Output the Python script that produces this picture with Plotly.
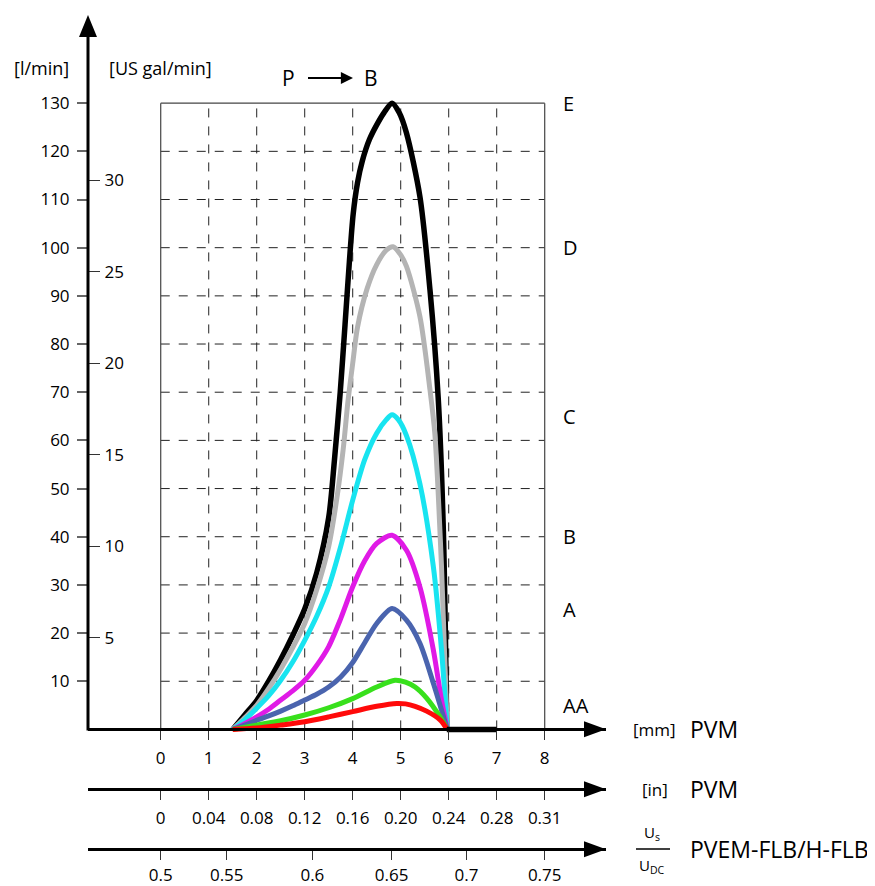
import plotly.graph_objects as go

# flow curves, stroke in mm vs flow in l/min
e_mm = [1.5, 1.75, 2.0, 2.25, 2.5, 2.75, 3.0, 3.25, 3.5, 3.62, 3.74, 3.84, 3.93, 4.01, 4.1, 4.2, 4.35, 4.5, 4.65, 4.82, 4.97, 5.12, 5.4, 5.61, 5.78, 5.89, 5.96]
e_flow = [0, 3.0, 6.0, 10.0, 14.5, 19.5, 25.0, 32.5, 44.0, 56.0, 70.0, 84.0, 97.0, 107.0, 113.5, 118.0, 122.5, 125.5, 128.0, 130.0, 128.0, 123.8, 110.6, 91.2, 69.0, 40.7, 0]
e_tail_mm = [5.96, 7.0]
e_tail_flow = [0, 0]
d_mm = [1.5, 1.75, 2.0, 2.25, 2.5, 2.75, 3.0, 3.25, 3.5, 3.67, 3.8, 3.9, 4.0, 4.1, 4.3, 4.5, 4.7, 4.84, 5.0, 5.12, 5.4, 5.61, 5.71, 5.85, 5.97]
d_flow = [0, 2.4, 5.0, 8.5, 12.5, 17.0, 22.0, 29.0, 38.0, 48.0, 58.0, 68.0, 76.0, 83.5, 91.5, 96.5, 99.5, 100.2, 98.5, 96.1, 85.7, 70.5, 61.5, 33.8, 0]
c_mm = [1.5, 1.75, 2.0, 2.25, 2.5, 2.75, 3.0, 3.25, 3.5, 3.75, 4.0, 4.25, 4.5, 4.7, 4.82, 4.95, 5.12, 5.4, 5.68, 5.85, 5.97]
c_flow = [0, 2.0, 4.4, 7.0, 10.2, 14.0, 18.5, 23.5, 29.6, 38.0, 47.6, 56.0, 61.5, 64.3, 65.3, 64.3, 61.0, 51.0, 33.8, 16.5, 0]
b_mm = [1.5, 1.75, 2.0, 2.25, 2.5, 2.75, 3.0, 3.25, 3.5, 3.75, 4.0, 4.25, 4.5, 4.82, 5.12, 5.4, 5.68, 5.85, 5.97]
b_flow = [0, 1.2, 2.6, 4.2, 6.1, 8.0, 10.2, 13.3, 17.2, 23.0, 29.6, 35.0, 38.6, 40.3, 37.2, 29.6, 16.5, 6.1, 0]
a_mm = [1.5, 1.75, 2.0, 2.25, 2.5, 2.75, 3.0, 3.25, 3.5, 3.75, 4.0, 4.25, 4.5, 4.82, 5.12, 5.4, 5.68, 5.97]
a_flow = [0, 0.9, 1.9, 2.8, 3.8, 4.9, 6.1, 7.3, 8.8, 10.9, 13.9, 18.0, 22.0, 25.1, 22.7, 17.9, 9.6, 0]
g_mm = [1.5, 2.0, 2.5, 3.0, 3.5, 4.0, 4.5, 4.88, 5.1, 5.3, 5.54, 5.82, 5.97]
g_flow = [0, 0.9, 1.8, 3.0, 4.5, 6.4, 8.8, 10.2, 9.8, 8.8, 6.5, 2.6, 0]
aa_mm = [1.5, 2.0, 2.5, 3.0, 3.5, 4.0, 4.5, 4.92, 5.1, 5.3, 5.54, 5.82, 5.97]
aa_flow = [0, 0.3, 0.9, 1.6, 2.6, 3.7, 4.8, 5.4, 5.3, 4.8, 3.8, 2.0, 0]

curve_labels = ["E", "D", "C", "B", "A", "AA"]
label_flow = [130, 100, 65, 40, 25, 5]

flow_ticks = [10, 20, 30, 40, 50, 60, 70, 80, 90, 100, 110, 120, 130]
gal_ticks = [5, 10, 15, 20, 25, 30]
mm_ticks = [0, 1, 2, 3, 4, 5, 6, 7, 8]
inch_labels = ["0", "0.04", "0.08", "0.12", "0.16", "0.20", "0.24", "0.28", "0.31"]
us_labels = ["0.5", "0.55", "0.6", "0.65", "0.7", "0.75"]
us_tick_mm = [0, 1.375, 3.16, 4.81, 6.37, 8.0]

L_PER_GAL = 3.8  # scale used on the drawing

# page pixels (the html body adds an 8 px offset)
OFF = 8
PL, PR, PT, PB = 88, 606, 15, 886
XR = [-1.515, 9.277]
YR = [-32.5, 148.3]
FONT = "Open Sans"


def px(x):
    return (x - PL) / (PR - PL)


def py(y):
    return (PB - y) / (PB - PT)


fig = go.Figure()

series = [
    (e_mm, e_flow, "#000000", 5.5),
    (d_mm, d_flow, "#b4b4b4", 5),
    (c_mm, c_flow, "#18e4f0", 5),
    (b_mm, b_flow, "#e01ae6", 5),
    (a_mm, a_flow, "#4a64ae", 5),
    (g_mm, g_flow, "#38e01c", 5),
    (aa_mm, aa_flow, "#ff0a0a", 5),
]
for xs, ys, col, w in series:
    fig.add_trace(go.Scatter(x=xs, y=ys, mode="lines", line=dict(color=col, width=w, shape="spline", smoothing=0.8),
                             showlegend=False, hoverinfo="skip"))
fig.add_trace(go.Scatter(x=e_tail_mm, y=e_tail_flow, mode="lines", line=dict(color="#000000", width=5.5),
                         showlegend=False, hoverinfo="skip"))

# grid box
for v in mm_ticks[1:-1]:
    fig.add_shape(type="line", x0=v, x1=v, y0=0, y1=130, xref="x", yref="y",
                  line=dict(color="#222", width=1, dash="dash"), layer="below")
for v in flow_ticks[:-1]:
    fig.add_shape(type="line", x0=0, x1=8, y0=v, y1=v, xref="x", yref="y",
                  line=dict(color="#222", width=1, dash="dash"), layer="below")
for v in [0, 8]:
    fig.add_shape(type="line", x0=v, x1=v, y0=0, y1=130, xref="x", yref="y",
                  line=dict(color="#444", width=1.2), layer="below")
fig.add_shape(type="line", x0=0, x1=8, y0=130, y1=130, xref="x", yref="y",
              line=dict(color="#444", width=1.2), layer="below")

# y axis line and arrow
fig.add_shape(type="line", x0=px(88), x1=px(88), y0=py(730.5), y1=py(30), xref="paper", yref="paper",
              line=dict(color="black", width=3))
fig.add_shape(type="path", xref="paper", yref="paper", fillcolor="black", line=dict(width=0),
              path=f"M {px(88)} {py(15)} L {px(79)} {py(37)} L {px(97)} {py(37)} Z")
# x axis arrows
for yy in [729.3, 789.3, 849.3]:
    fig.add_shape(type="path", xref="paper", yref="paper", fillcolor="black", line=dict(width=0),
                  path=f"M {px(606)} {py(yy)} L {px(584)} {py(yy - 8)} L {px(584)} {py(yy + 8)} Z")

tickfont = dict(family=FONT, size=17, color="black")
axis_common = dict(range=XR, showgrid=False, zeroline=False, showline=True, linewidth=3, linecolor="black",
                   ticks="outside", ticklen=9, tickcolor="#333", tickwidth=1, tickfont=tickfont,
                   automargin=False)

fig.update_layout(
    width=875 - OFF, height=886 - OFF,
    margin=dict(l=PL - OFF, r=875 - PR, t=PT - OFF, b=886 - PB),
    paper_bgcolor="white", plot_bgcolor="white",
    font=dict(family=FONT, color="black"),
    showlegend=False,
    xaxis=dict(anchor="free", position=py(729.3), tickvals=mm_ticks, ticklabelstandoff=3, **axis_common),
    xaxis2=dict(anchor="free", overlaying="x", position=py(789.3), tickvals=mm_ticks, ticktext=inch_labels,
                ticklabelstandoff=3, **axis_common),
    xaxis3=dict(anchor="free", overlaying="x", position=py(849.3), tickvals=us_tick_mm, ticktext=us_labels,
                ticklabelstandoff=0, **axis_common),
    yaxis=dict(range=YR, anchor="free", position=0, tickvals=flow_ticks, ticks="outside", ticklen=11,
               ticklabelstandoff=4, tickcolor="#666", tickwidth=1.5, showgrid=False, zeroline=False,
               showline=False, tickfont=tickfont, automargin=False),
    yaxis2=dict(range=[YR[0] / L_PER_GAL, YR[1] / L_PER_GAL], overlaying="y", anchor="free", position=0,
                side="left", tickvals=gal_ticks, ticks="inside", ticklabelposition="inside", ticklen=11,
                ticklabelstandoff=5, tickcolor="#333", tickwidth=1, showgrid=False, zeroline=False,
                showline=False, tickfont=tickfont, automargin=False),
)

# bind the extra axes so they are drawn
fig.add_trace(go.Scatter(x=e_tail_mm, y=e_tail_flow, xaxis="x2", mode="lines", line=dict(width=0),
                         showlegend=False, hoverinfo="skip"))
fig.add_trace(go.Scatter(x=e_tail_mm, y=e_tail_flow, xaxis="x3", mode="lines", line=dict(width=0),
                         showlegend=False, hoverinfo="skip"))
fig.add_trace(go.Scatter(x=e_tail_mm, y=[v / L_PER_GAL for v in e_tail_flow], yaxis="y2", mode="lines",
                         line=dict(width=0), showlegend=False, hoverinfo="skip"))

ann = []
for lab, fl in zip(curve_labels, label_flow):
    ann.append(dict(x=8.33, y=fl, xref="x", yref="y", text=lab, showarrow=False, xanchor="left",
                    font=dict(size=20)))


def ptext(x, y, text, size, xanchor="center"):
    ann.append(dict(x=px(x), y=py(y), xref="paper", yref="paper", text=text, showarrow=False,
                    xanchor=xanchor, yanchor="middle", font=dict(size=size)))


ptext(41, 68, "[l/min]", 18)
ptext(160, 68, "[US gal/min]", 18)
ptext(288, 78, "P", 21)
ptext(371, 78, "B", 21)
ann.append(dict(x=px(353), y=py(78), xref="paper", yref="paper", ax=-48, ay=0, showarrow=True,
                arrowhead=2, arrowsize=1.1, arrowwidth=2.2, arrowcolor="black", text=" "))
ptext(654, 729, "[mm]", 17)
ptext(688, 729, "PVM", 23, "left")
ptext(655, 789, "[in]", 17)
ptext(688, 789, "PVM", 23, "left")
ptext(652, 833, "U<sub>s</sub>", 15)
ptext(652, 866, "U<sub>DC</sub>", 15)
ptext(688, 849, "PVEM-FLB/H-FLB", 23, "left")
fig.update_layout(annotations=ann)
fig.add_shape(type="line", x0=px(636), x1=px(670), y0=py(849), y1=py(849), xref="paper", yref="paper",
              line=dict(color="black", width=1.5))

fig.write_html("out.html")
